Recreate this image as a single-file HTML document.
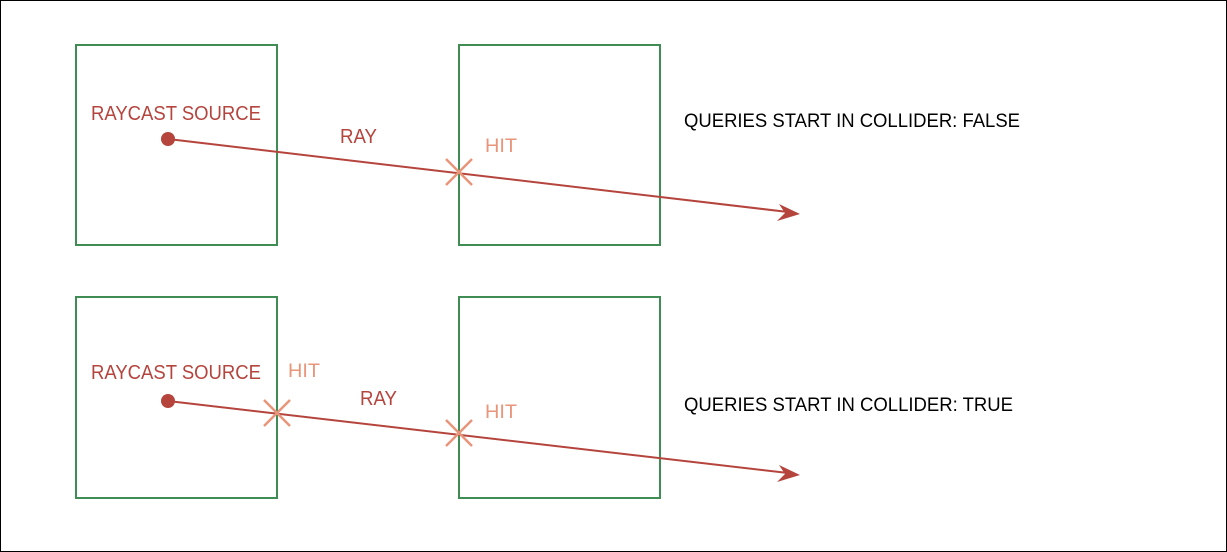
<!DOCTYPE html>
<html><head><meta charset="utf-8"><style>
html,body{margin:0;padding:0;background:#fff}
svg{display:block}
text{font-family:"Liberation Sans",sans-serif}
</style></head><body>
<svg width="1227" height="552" viewBox="0 0 1227 552" xmlns="http://www.w3.org/2000/svg">
<rect x="0.5" y="0.5" width="1226" height="551" fill="#fff" stroke="#000" stroke-width="1"/>
<g fill="none" stroke="#3f8c55" stroke-width="2">
<rect x="76" y="45" width="201" height="200"/>
<rect x="459" y="45" width="201" height="200"/>
<rect x="76" y="297" width="201" height="201"/>
<rect x="459" y="297" width="201" height="201"/>
</g>
<g stroke="#b5443d" stroke-width="2" fill="#b5443d">
<line x1="168" y1="139" x2="788" y2="212"/>
<line x1="168" y1="401" x2="788" y2="473"/>
</g>
<g fill="#b5443d">
<circle cx="168" cy="139" r="7"/>
<circle cx="168" cy="401" r="7"/>
<polygon points="800,214 779,204 785,213 777,221"/>
<polygon points="800,475 779,465 785,474 777,482"/>
</g>
<g stroke="#e8957a" stroke-width="2.5">
<line x1="446" y1="159" x2="472" y2="185"/><line x1="472" y1="159" x2="446" y2="185"/>
<line x1="264" y1="400" x2="290" y2="426"/><line x1="290" y1="400" x2="264" y2="426"/>
<line x1="446" y1="420" x2="472" y2="446"/><line x1="472" y1="420" x2="446" y2="446"/>
</g>
<g fill="#b5443d" font-size="20">
<text x="91" y="120" textLength="170" lengthAdjust="spacingAndGlyphs">RAYCAST SOURCE</text>
<text x="91" y="379" textLength="170" lengthAdjust="spacingAndGlyphs">RAYCAST SOURCE</text>
<text x="340" y="143" textLength="37" lengthAdjust="spacingAndGlyphs">RAY</text>
<text x="360" y="405" textLength="37" lengthAdjust="spacingAndGlyphs">RAY</text>
</g>
<g fill="#e8957a" font-size="19">
<text x="485" y="152" textLength="32" lengthAdjust="spacingAndGlyphs">HIT</text>
<text x="288" y="377" textLength="32" lengthAdjust="spacingAndGlyphs">HIT</text>
<text x="485" y="418" textLength="32" lengthAdjust="spacingAndGlyphs">HIT</text>
</g>
<g fill="#000" font-size="19">
<text x="684" y="127" textLength="336" lengthAdjust="spacingAndGlyphs">QUERIES START IN COLLIDER: FALSE</text>
<text x="684" y="411" textLength="329" lengthAdjust="spacingAndGlyphs">QUERIES START IN COLLIDER: TRUE</text>
</g>
</svg>
</body></html>
